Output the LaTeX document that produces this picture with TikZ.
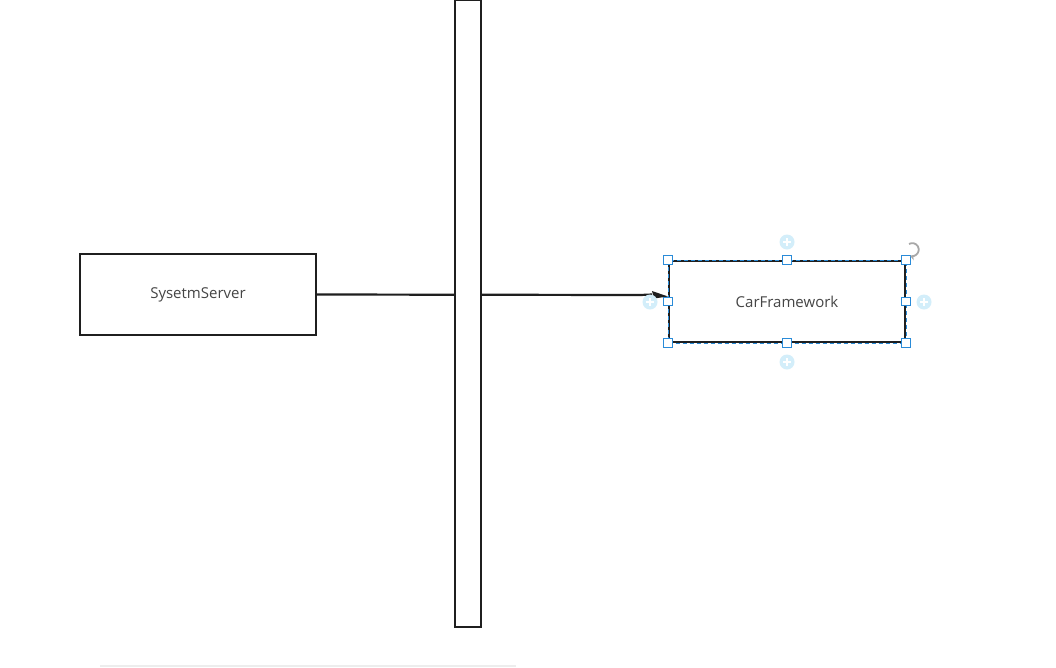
\documentclass[tikz,border=0pt]{standalone}
\usepackage{fontspec}
\setmainfont{Open Sans}
\usetikzlibrary{arrows.meta}
\definecolor{ink}{HTML}{1F1F1F}
\definecolor{label}{HTML}{454545}
\definecolor{handle}{HTML}{2A8BD8}
\definecolor{hint}{HTML}{D3EEFA}
\definecolor{rot}{HTML}{A8A8A8}
\begin{document}
\begin{tikzpicture}[x=1pt,y=-1pt,
  block/.style={draw=ink,line width=2.2pt,fill=white,minimum width=236pt,minimum height=81pt,
    inner sep=0pt,font=\fontsize{15pt}{18pt}\selectfont,text=label},
  lane/.style={draw=ink,line width=2pt,fill=white,minimum width=26pt,minimum height=627pt,inner sep=0pt},
  link/.style={draw=ink,line width=2.2pt},
  grip/.style={draw=handle,fill=white,line width=1pt,minimum size=8.5pt,inner sep=0pt},
  plus/.style={fill=hint,circle,minimum size=15pt,inner sep=0pt}]
  \useasboundingbox (0,0) rectangle (1056,667);
  \fill[white] (0,0) rectangle (1056,667);

  % faint strip along the bottom edge
  \draw[black!7,line width=1.5pt] (100,666) -- (516,666);

  % blocks
  \node[block] (srv) at (198,294.5) {SysetmServer};
  \node[block] (car) at (787,301.5) {CarFramework};
  \draw[handle,line width=0.7pt,dash pattern=on 4pt off 3pt] (car.north west) rectangle (car.south east);

  % connector from the server to the framework
  \draw[link] (srv.east) -- (640,295) -- (652,294.5);
  \fill[ink] (652,291) -- (668,296.5) -- (654,298.5) -- cycle;

  % vertical bar crossing the connector
  \node[lane] (bar) at (468,313.5) {};

  % connection hints around the selected block
  \node[plus] (p1) at (787,242) {};
  \node[plus] (p2) at (924,302) {};
  \node[plus] (p3) at (787,362) {};
  \node[plus] (p4) at (650,302) {};
  \foreach \p in {p1,p2,p3,p4}{
    \draw[white,line width=1.2pt] ([xshift=-4pt]\p.center) -- ([xshift=4pt]\p.center);
    \draw[white,line width=1.2pt] ([yshift=-4pt]\p.center) -- ([yshift=4pt]\p.center);
  }

  % resize grips
  \foreach \a in {north west,north,north east,east,south east,south,south west,west}{
    \node[grip] at (car.\a) {};
  }

  % rotation grip
  \draw[rot,line width=1.8pt,-{Stealth[length=5pt,width=6pt]}] (909,244) arc[start angle=120,end angle=-110,radius=6.5pt];
\end{tikzpicture}
\end{document}
